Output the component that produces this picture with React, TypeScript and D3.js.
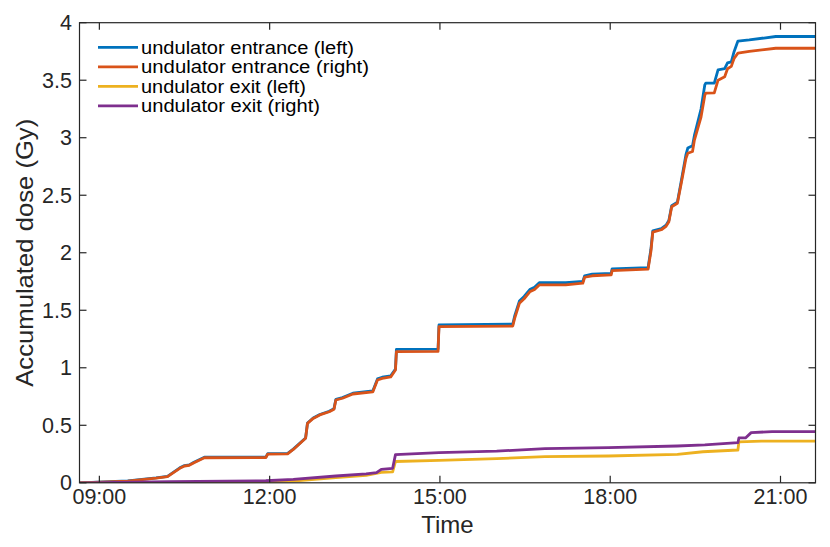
import * as d3 from "d3";

// time stamps are "HH:MM" on the same day, dose in Gy
const entranceLeft: [string, number][] = [
  ["08:39", 0], ["09:30", 0.017], ["10:00", 0.042], ["10:12", 0.056], ["10:25", 0.13],
  ["10:30", 0.15], ["10:35", 0.156], ["10:40", 0.179], ["10:51", 0.222], ["11:56", 0.223],
  ["11:58", 0.253], ["12:19", 0.255], ["12:25", 0.293], ["12:38", 0.39], ["12:40", 0.52],
  ["12:46", 0.563], ["12:53", 0.594], ["13:03", 0.622], ["13:08", 0.645], ["13:10", 0.726],
  ["13:17", 0.741], ["13:28", 0.779], ["13:49", 0.798], ["13:54", 0.903], ["13:59", 0.918],
  ["14:08", 0.93], ["14:13", 0.99], ["14:14", 1.16], ["14:58", 1.163], ["14:59", 1.372],
  ["16:17", 1.38], ["16:19", 1.45], ["16:24", 1.58], ["16:29", 1.62], ["16:35", 1.68],
  ["16:40", 1.7], ["16:45", 1.74], ["17:13", 1.74], ["17:31", 1.75], ["17:33", 1.8],
  ["17:41", 1.815], ["18:01", 1.82], ["18:02", 1.86], ["18:40", 1.87], ["18:43", 2.03],
  ["18:45", 2.19], ["18:54", 2.21], ["18:59", 2.24], ["19:02", 2.28], ["19:05", 2.41],
  ["19:11", 2.44], ["19:15", 2.62], ["19:20", 2.85], ["19:22", 2.91], ["19:27", 2.93],
  ["19:29", 3.02], ["19:36", 3.25], ["19:40", 3.46], ["19:41", 3.475], ["19:50", 3.475],
  ["19:54", 3.59], ["20:01", 3.6], ["20:04", 3.65], ["20:08", 3.66], ["20:11", 3.75],
  ["20:15", 3.84], ["20:27", 3.85], ["20:55", 3.88], ["21:37", 3.88],
];

const entranceRight: [string, number][] = [
  ["08:39", 0], ["09:30", 0.015], ["10:00", 0.04], ["10:12", 0.053], ["10:25", 0.126],
  ["10:30", 0.146], ["10:35", 0.152], ["10:40", 0.175], ["10:51", 0.218], ["11:56", 0.22],
  ["11:58", 0.25], ["12:19", 0.252], ["12:25", 0.29], ["12:38", 0.387], ["12:40", 0.517],
  ["12:46", 0.56], ["12:53", 0.59], ["13:03", 0.618], ["13:08", 0.64], ["13:10", 0.72],
  ["13:17", 0.735], ["13:28", 0.772], ["13:49", 0.79], ["13:54", 0.894], ["13:59", 0.908],
  ["14:08", 0.92], ["14:13", 0.98], ["14:14", 1.14], ["14:58", 1.142], ["14:59", 1.357],
  ["16:17", 1.363], ["16:19", 1.43], ["16:24", 1.56], ["16:29", 1.6], ["16:35", 1.66],
  ["16:40", 1.68], ["16:45", 1.72], ["17:13", 1.72], ["17:31", 1.735], ["17:33", 1.787],
  ["17:41", 1.8], ["18:01", 1.807], ["18:02", 1.845], ["18:40", 1.857], ["18:43", 2.01],
  ["18:45", 2.18], ["18:54", 2.2], ["18:59", 2.23], ["19:02", 2.27], ["19:05", 2.4],
  ["19:11", 2.43], ["19:15", 2.6], ["19:20", 2.82], ["19:22", 2.865], ["19:27", 2.88],
  ["19:29", 2.98], ["19:36", 3.18], ["19:40", 3.37], ["19:41", 3.387], ["19:50", 3.39],
  ["19:54", 3.5], ["20:01", 3.53], ["20:04", 3.6], ["20:08", 3.62], ["20:11", 3.69],
  ["20:15", 3.735], ["20:27", 3.75], ["20:55", 3.778], ["21:37", 3.778],
];

const exitLeft: [string, number][] = [
  ["08:39", 0], ["11:56", 0.008], ["12:25", 0.015], ["13:10", 0.045], ["13:42", 0.065],
  ["13:58", 0.09], ["14:10", 0.095], ["14:13", 0.185], ["14:59", 0.195], ["16:00", 0.21],
  ["16:51", 0.227], ["17:58", 0.233], ["19:11", 0.247], ["19:38", 0.27], ["20:15", 0.285],
  ["20:16", 0.355], ["20:40", 0.363], ["21:37", 0.363],
];

const exitRight: [string, number][] = [
  ["08:39", 0], ["10:14", 0.01], ["11:56", 0.018], ["12:25", 0.03], ["13:10", 0.059],
  ["13:42", 0.077], ["13:53", 0.088], ["13:58", 0.117], ["14:10", 0.126], ["14:13", 0.245],
  ["14:59", 0.262], ["16:00", 0.275], ["16:51", 0.297], ["17:58", 0.305], ["19:11", 0.32],
  ["19:40", 0.33], ["20:15", 0.349], ["20:16", 0.39], ["20:23", 0.39], ["20:29", 0.436],
  ["20:51", 0.445], ["21:37", 0.445],
];

const seriesNames = [
  "undulator entrance (left)",
  "undulator entrance (right)",
  "undulator exit (left)",
  "undulator exit (right)",
];
const seriesColors = ["#0072BD", "#D95319", "#EDB120", "#7E2F8E"];
const seriesData = [entranceLeft, entranceRight, exitLeft, exitRight];
// legend label widths
const legendWidths = [213, 228, 165, 179];

const timeDomain = ["08:39", "21:37"];
const timeTicks = ["09:00", "12:00", "15:00", "18:00", "21:00"];
const doseTicks = [0, 0.5, 1, 1.5, 2, 2.5, 3, 3.5, 4];

const W = 830;
const H = 547;
const left = 79.5;
const right = 815.5;
const top = 22.7;
const bottom = 482.8;
const tickLen = 7;
const axisColor = "#262626";
const font = "'Liberation Sans', Arial, Helvetica, sans-serif";

const parseTime = d3.timeParse("%H:%M");

export default function App() {
  const x = d3
    .scaleTime()
    .domain(timeDomain.map((t) => parseTime(t) as Date))
    .range([left, right]);
  const y = d3.scaleLinear().domain([0, 4]).range([bottom, top]);
  const fmt = d3.timeFormat("%H:%M");

  const line = d3
    .line<[string, number]>()
    .x((d) => x(parseTime(d[0]) as Date))
    .y((d) => y(d[1]));

  const xt = timeTicks.map((t) => parseTime(t) as Date);

  return (
    <svg
      width={W}
      height={H}
      viewBox={`0 0 ${W} ${H}`}
      style={{ position: "absolute", left: 0, top: 0, background: "#fff" }}
      fontFamily={font}
    >
      <rect width={W} height={H} fill="#fff" />
      <defs>
        <clipPath id="plot">
          <rect x={left} y={top - 2} width={right - left} height={bottom - top + 2} />
        </clipPath>
      </defs>

      {/* data lines */}
      <g clipPath="url(#plot)">
        {seriesData.map((s, i) => (
          <path
            key={seriesNames[i]}
            d={line(s) ?? ""}
            fill="none"
            stroke={seriesColors[i]}
            strokeWidth={2.8}
            strokeLinejoin="round"
          />
        ))}
      </g>

      {/* axes box */}
      <rect
        x={left}
        y={top}
        width={right - left}
        height={bottom - top}
        fill="none"
        stroke={axisColor}
        strokeWidth={1.2}
      />

      {/* x ticks */}
      {xt.map((t) => (
        <g key={fmt(t)}>
          <line x1={x(t)} x2={x(t)} y1={bottom} y2={bottom - tickLen} stroke={axisColor} strokeWidth={1.2} />
          <line x1={x(t)} x2={x(t)} y1={top} y2={top + tickLen} stroke={axisColor} strokeWidth={1.2} />
          <text x={x(t)} y={504} textAnchor="middle" fontSize={21.5} fill={axisColor}>
            {fmt(t)}
          </text>
        </g>
      ))}

      {/* y ticks */}
      {doseTicks.map((v) => (
        <g key={v}>
          <line x1={left} x2={left + tickLen} y1={y(v)} y2={y(v)} stroke={axisColor} strokeWidth={1.2} />
          <line x1={right} x2={right - tickLen} y1={y(v)} y2={y(v)} stroke={axisColor} strokeWidth={1.2} />
          <text x={72} y={y(v) + 7.5} textAnchor="end" fontSize={21.5} fill={axisColor}>
            {String(v)}
          </text>
        </g>
      ))}

      {/* axis labels */}
      <text x={(left + right) / 2} y={533} textAnchor="middle" fontSize={24} fill={axisColor}>
        Time
      </text>
      <text
        transform={`translate(33,${(top + bottom) / 2}) rotate(-90)`}
        textAnchor="middle"
        fontSize={24}
        textLength={268}
        lengthAdjust="spacingAndGlyphs"
        fill={axisColor}
      >
        Accumulated dose (Gy)
      </text>

      {/* legend */}
      {seriesNames.map((name, i) => (
        <g key={name} transform={`translate(98,${47.3 + i * 19.5})`}>
          <line x1={0} x2={40} y1={0} y2={0} stroke={seriesColors[i]} strokeWidth={2.8} />
          <text
            x={43}
            y={6.5}
            fontSize={17.5}
            textLength={legendWidths[i]}
            lengthAdjust="spacingAndGlyphs"
            fill="#000"
          >
            {name}
          </text>
        </g>
      ))}
    </svg>
  );
}
